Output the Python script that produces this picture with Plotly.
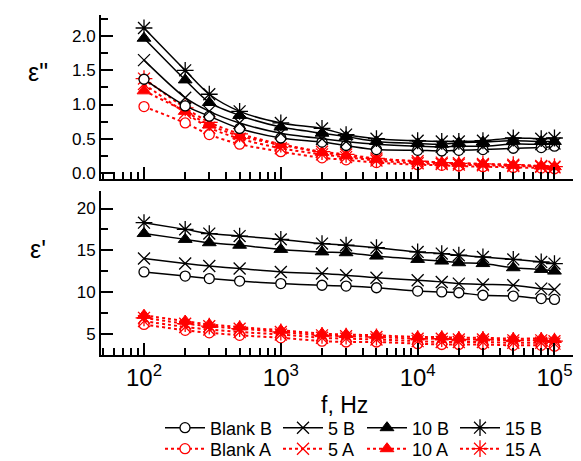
import plotly.graph_objects as go
from plotly.subplots import make_subplots
import math

freq = [100, 200, 300, 500, 1000, 2000, 3000, 5000, 10000, 15000, 20000, 30000, 50000, 80000, 100000]

# epsilon'' (top panel)
eps2_blankB = [1.37, 0.98, 0.83, 0.65, 0.51, 0.45, 0.40, 0.34, 0.33, 0.32, 0.33, 0.34, 0.36, 0.37, 0.39]
eps2_5B = [1.65, 1.10, 0.90, 0.73, 0.58, 0.50, 0.46, 0.42, 0.39, 0.38, 0.39, 0.39, 0.42, 0.42, 0.43]
eps2_10B = [1.97, 1.36, 1.03, 0.84, 0.67, 0.58, 0.53, 0.46, 0.43, 0.42, 0.44, 0.45, 0.47, 0.46, 0.46]
eps2_15B = [2.12, 1.50, 1.15, 0.90, 0.73, 0.65, 0.56, 0.50, 0.47, 0.46, 0.46, 0.47, 0.51, 0.50, 0.51]
eps2_blankA = [0.97, 0.73, 0.56, 0.42, 0.31, 0.22, 0.19, 0.15, 0.12, 0.11, 0.10, 0.09, 0.08, 0.07, 0.06]
eps2_5A = [1.30, 0.88, 0.66, 0.50, 0.36, 0.27, 0.23, 0.18, 0.14, 0.13, 0.12, 0.11, 0.10, 0.09, 0.08]
eps2_10A = [1.20, 0.90, 0.70, 0.54, 0.41, 0.30, 0.25, 0.20, 0.17, 0.15, 0.14, 0.13, 0.11, 0.10, 0.09]
eps2_15A = [1.38, 0.95, 0.74, 0.57, 0.42, 0.31, 0.27, 0.21, 0.17, 0.15, 0.14, 0.13, 0.12, 0.10, 0.09]

# epsilon' (bottom panel)
eps1_blankB = [12.4, 11.9, 11.6, 11.3, 11.0, 10.8, 10.7, 10.5, 10.1, 10.0, 9.9, 9.6, 9.5, 9.2, 9.1]
eps1_5B = [14.0, 13.4, 13.1, 12.8, 12.4, 12.2, 12.0, 11.7, 11.4, 11.2, 11.0, 10.9, 10.8, 10.4, 10.3]
eps1_10B = [17.0, 16.3, 15.9, 15.6, 15.1, 14.8, 14.7, 14.3, 13.9, 13.7, 13.5, 13.4, 12.9, 12.7, 12.5]
eps1_15B = [18.3, 17.5, 17.0, 16.7, 16.3, 15.8, 15.6, 15.3, 14.8, 14.6, 14.4, 14.2, 13.9, 13.6, 13.4]
eps1_blankA = [6.1, 5.4, 5.1, 4.8, 4.5, 4.1, 4.0, 4.0, 3.8, 3.7, 3.7, 3.7, 3.6, 3.6, 3.5]
eps1_5A = [6.5, 5.8, 5.5, 5.2, 4.9, 4.5, 4.4, 4.3, 4.1, 4.0, 4.0, 4.0, 3.9, 3.9, 3.8]
eps1_10A = [7.2, 6.5, 6.1, 5.8, 5.4, 5.0, 4.9, 4.8, 4.6, 4.6, 4.5, 4.5, 4.4, 4.4, 4.3]
eps1_15A = [6.9, 6.2, 5.9, 5.6, 5.2, 4.8, 4.7, 4.6, 4.4, 4.4, 4.3, 4.3, 4.2, 4.2, 4.1]

names = ["Blank B", "5 B", "10 B", "15 B", "Blank A", "5 A", "10 A", "15 A"]
top_series = [eps2_blankB, eps2_5B, eps2_10B, eps2_15B, eps2_blankA, eps2_5A, eps2_10A, eps2_15A]
bot_series = [eps1_blankB, eps1_5B, eps1_10B, eps1_15B, eps1_blankA, eps1_5A, eps1_10A, eps1_15A]

x_tickvals = [100, 1000, 10000, 100000]
x_ticktext = ["10<sup>2</sup>", "10<sup>3</sup>", "10<sup>4</sup>", "10<sup>5</sup>"]

FONT = "Liberation Sans, Arial, sans-serif"
BLACK = "#000000"
RED = "#ff0000"

def marker_for(i):
    color = BLACK if i < 4 else RED
    kind = i % 4
    if kind == 0:
        return dict(symbol="circle", size=10, color="white", line=dict(color=color, width=1.3))
    if kind == 1:
        return dict(symbol="x-thin-open", size=12, color=color, line=dict(color=color, width=1.3))
    if kind == 2:
        return dict(symbol="triangle-up", size=12, color=color, line=dict(color=color, width=1))
    return dict(symbol="asterisk-open", size=14, color=color, line=dict(color=color, width=1.3))

fig = make_subplots(rows=2, cols=1, shared_xaxes=False, vertical_spacing=0.035)

legend_ids = ["legend"] + ["legend%d" % k for k in range(2, 9)]
order = [4, 5, 6, 7, 0, 1, 2, 3]  # draw A series first, B series on top
for i in order:
    color = BLACK if i < 4 else RED
    line = dict(color=color, width=1.5, shape="spline", smoothing=0.8) if i < 4 else \
        dict(color=color, width=2, dash="dot", shape="spline", smoothing=0.8)
    fig.add_trace(go.Scatter(x=freq, y=top_series[i], mode="lines+markers", name=names[i],
                             line=line, marker=marker_for(i), legend=legend_ids[i], showlegend=True),
                  row=1, col=1)
    fig.add_trace(go.Scatter(x=freq, y=bot_series[i], mode="lines+markers", name=names[i],
                             line=line, marker=marker_for(i), showlegend=False),
                  row=2, col=1)

W, H = 581, 461
L, R, T, B = 93, 3, 7, 114
pw, ph = W - L - R, H - T - B

def px(xp):
    return (xp - L) / pw

def py(yp):
    return (H - B - yp) / ph

xr = [math.log10(48.5), math.log10(170000)]
minor_x = [m * 10 ** e for e in range(1, 6) for m in range(2, 10)]

axis_common = dict(showline=True, linewidth=2, linecolor=BLACK, ticks="inside", ticklen=12,
                   tickwidth=2, tickcolor=BLACK, showgrid=False, zeroline=False, mirror=False,
                   automargin=False)

fig.update_xaxes(type="log", range=xr, tickmode="array", tickvals=x_tickvals, ticktext=x_ticktext,
                 minor=dict(tickmode="array", tickvals=minor_x, ticks="inside", ticklen=7, tickwidth=2,
                            tickcolor=BLACK, showgrid=False),
                 **axis_common)
fig.update_xaxes(showticklabels=False, row=1, col=1)
fig.update_xaxes(tickfont=dict(family=FONT, size=24, color=BLACK), row=2, col=1)

fig.update_yaxes(range=[-0.09, 2.31], tickmode="array", tickvals=[0, 0.5, 1.0, 1.5, 2.0],
                 ticktext=["0.0", "0.5", "1.0", "1.5", "2.0"],
                 minor=dict(tickmode="array", tickvals=[0.25, 0.75, 1.25, 1.75, 2.25], ticks="inside",
                            ticklen=7, tickwidth=2, tickcolor=BLACK, showgrid=False),
                 tickfont=dict(family=FONT, size=17, color=BLACK), row=1, col=1, **axis_common)
fig.update_yaxes(range=[2.44, 22.1], tickmode="array", tickvals=[5, 10, 15, 20],
                 minor=dict(tickmode="array", tickvals=[2.5, 7.5, 12.5, 17.5], ticks="inside",
                            ticklen=7, tickwidth=2, tickcolor=BLACK, showgrid=False),
                 tickfont=dict(family=FONT, size=17, color=BLACK), row=2, col=1, **axis_common)

top_lo = (H - B - 171) / ph
bot_hi = (H - B - 183) / ph
fig.update_layout(yaxis=dict(domain=[top_lo, 1.0]), yaxis2=dict(domain=[0.0, bot_hi]),
                  xaxis=dict(domain=[0, 1]), xaxis2=dict(domain=[0, 1]))

ann_common = dict(xref="paper", yref="paper", showarrow=False, xanchor="center", yanchor="middle")
fig.add_annotation(text='\u03b5"', x=px(30), y=py(64), font=dict(family=FONT, size=25, color=BLACK),
                   **ann_common)
fig.add_annotation(text="\u03b5'", x=px(30), y=py(241), font=dict(family=FONT, size=25, color=BLACK),
                   **ann_common)
fig.add_annotation(text="f, Hz", x=px(336), y=py(397), font=dict(family=FONT, size=23, color=BLACK),
                   **ann_common)

col_x = [152, 270, 354, 447]
row_y = [420, 441]
for i in range(8):
    key = legend_ids[i]
    fig.update_layout(**{key: dict(x=px(col_x[i % 4]), y=py(row_y[i // 4]), xanchor="left", yanchor="middle",
                                   orientation="h", bgcolor="rgba(0,0,0,0)", borderwidth=0,
                                   itemwidth=40, font=dict(family=FONT, size=18, color=BLACK))})

fig.update_layout(width=W, height=H, margin=dict(l=L, r=R, t=T, b=B, pad=0, autoexpand=False),
                  paper_bgcolor="white", plot_bgcolor="white", font=dict(family=FONT, color=BLACK))

fig.write_html("out.html")
